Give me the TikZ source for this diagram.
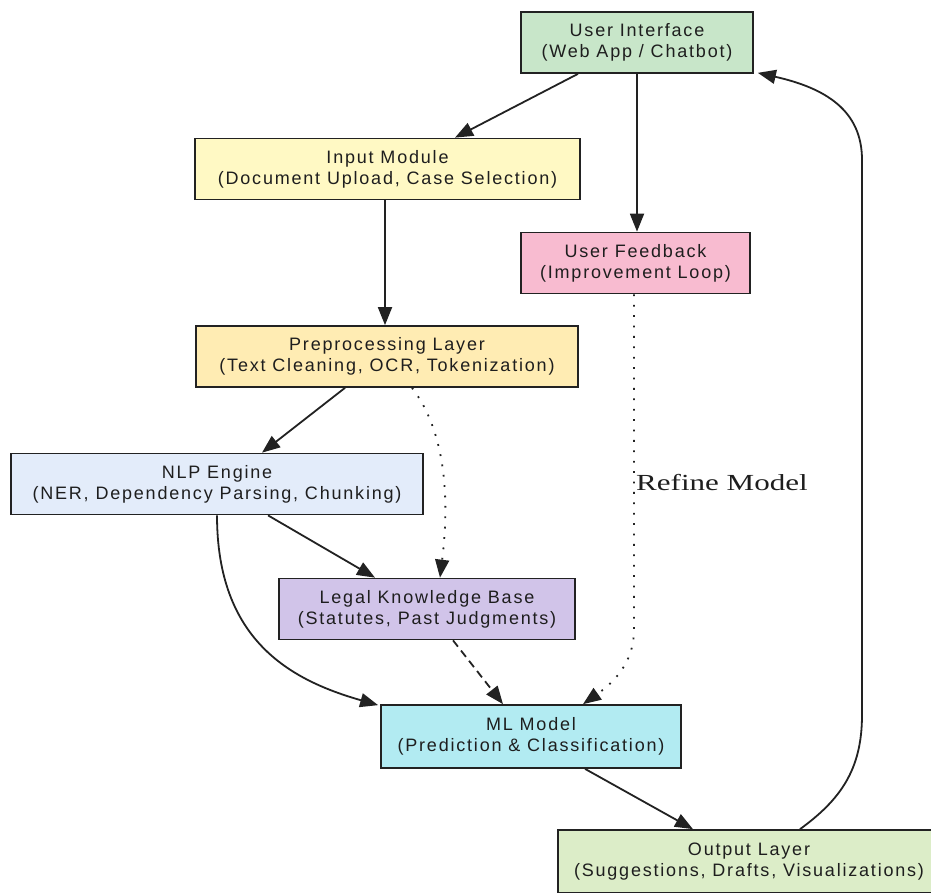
\documentclass[tikz,border=0pt]{standalone}
\usepackage{fontspec}
\usetikzlibrary{arrows.meta,calc}
\newfontfamily\nodefont[LetterSpace=10]{Liberation Sans}
\newfontfamily\lblfont[FakeStretch=1.35]{Liberation Serif}
\definecolor{uiC}{HTML}{C8E6C9}
\definecolor{inC}{HTML}{FFF9C4}
\definecolor{fbC}{HTML}{F8BBD0}
\definecolor{preC}{HTML}{FFECB3}
\definecolor{nlpC}{HTML}{E3ECFA}
\definecolor{lkbC}{HTML}{D1C4E9}
\definecolor{mlC}{HTML}{B2EBF2}
\definecolor{outC}{HTML}{DCEDC8}
\definecolor{lineC}{HTML}{222222}
\definecolor{txtC}{HTML}{1E1E1E}
\tikzset{
  box/.style={draw=lineC, line width=1.7pt, rectangle, minimum height=61pt, inner sep=0pt,
    align=center, text=txtC, font=\nodefont\fontsize{18}{21}\selectfont},
  conn/.style={draw=lineC, line width=1.8pt, -{Triangle[length=18pt,width=14pt]}},
  dotline/.style={dash pattern=on 1.8pt off 8.6pt},
  dashline/.style={dash pattern=on 8pt off 5pt},
}
\begin{document}
\begin{tikzpicture}[x=1pt,y=-1pt]
\useasboundingbox (0,0) rectangle (931,893);
\clip (0,0) rectangle (931,893);
\fill[white] (0,0) rectangle (931,893);
\node[box, fill=uiC, minimum width=232pt] (ui) at (637,42.5) {User Interface\\(Web App / Chatbot)};
\node[box, fill=inC, minimum width=385pt] (in) at (387.5,169) {Input Module\\(Document Upload, Case Selection)};
\node[box, fill=fbC, minimum width=229pt] (fb) at (635.5,263) {User Feedback\\(Improvement Loop)};
\node[box, fill=preC, minimum width=382pt] (pre) at (387,356.5) {Preprocessing Layer\\(Text Cleaning, OCR, Tokenization)};
\node[box, fill=nlpC, minimum width=412pt] (nlp) at (217,484) {NLP Engine\\(NER, Dependency Parsing, Chunking)};
\node[box, fill=lkbC, minimum width=296pt] (lkb) at (427,609) {Legal Knowledge Base\\(Statutes, Past Judgments)};
\node[box, fill=mlC, minimum width=300pt, minimum height=63pt] (ml) at (531,736.5) {ML Model\\(Prediction \& Classification)};
\coordinate (outc) at (749,861.5);
\node[box, fill=outC, minimum width=440pt, minimum height=63pt, anchor=west] (out) at (557,861.5) {};
\node[align=center, inner sep=0pt, text=txtC, font=\nodefont\fontsize{18}{21}\selectfont] (outtxt) at (outc) {Output Layer\\(Suggestions, Drafts, Visualizations)};

\draw[conn] ([xshift=-59pt]ui.south) -- ([xshift=67.5pt]in.north);
\draw[conn] (ui.south) -- (ui.south |- fb.north);
\draw[conn] ([xshift=-2.5pt]in.south) -- ([xshift=-2.5pt]in.south |- pre.north);
\draw[conn] ([xshift=-42pt]pre.south) -- ([xshift=45pt]nlp.north);
\draw[conn, dotline] ([xshift=25pt]pre.south) .. controls (452,440) and (447,520) .. ([xshift=13pt]lkb.north);
\draw[conn] ([xshift=51pt]nlp.south) -- ([xshift=-52pt]lkb.north);
\draw[conn] (nlp.south) .. controls (217,640) and (290,680) .. ([xshift=-2pt,yshift=-1pt]ml.north west);
\draw[conn, dashline] ([xshift=26pt]lkb.south) -- ([xshift=-28pt]ml.north);
\draw[conn, dotline] ([xshift=-1.5pt]fb.south) -- (634,630) .. controls (634,665) and (610,685) .. ([xshift=52pt]ml.north);
\node[anchor=west, inner sep=0pt, text=txtC, font=\lblfont\fontsize{23}{26}\selectfont] (lbl) at (636,483) {Refine Model};
\draw[conn] ([xshift=54pt]ml.south) -- ([xshift=-56pt]out.north -| outc);
\draw[conn] ([xshift=51pt]out.north -| outc) .. controls (840,800) and (862,770) .. (862,715) -- (862,160) .. controls (862,110) and (825,88) .. ([xshift=4pt,yshift=1pt]ui.south east);
\end{tikzpicture}
\end{document}
